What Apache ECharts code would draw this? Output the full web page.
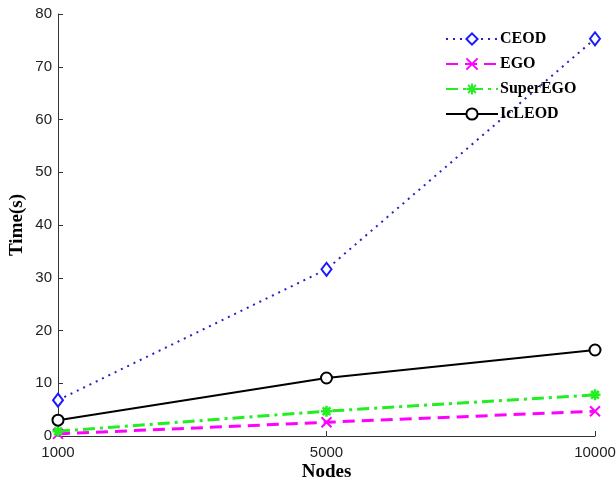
<!DOCTYPE html>
<html>
<head>
<meta charset="utf-8">
<script src="https://cdn.jsdelivr.net/npm/echarts@6/dist/echarts.min.js"></script>
<style>html,body{margin:0;padding:0;background:#fff}#c{width:616px;height:482px}</style>
</head>
<body>
<div id="c"></div>
<script>
const categories = ['1000', '5000', '10000'];
const ceod = [6.8, 31.6, 75.3];
const ego = [0.4, 2.6, 4.7];
const superEgo = [0.9, 4.7, 7.8];
const icleod = [3.0, 11.0, 16.3];
const yTicks = [0, 10, 20, 30, 40, 50, 60, 70, 80];

const xPath = 'path://M0,0L10,10M10,0L0,10';
const starPath = 'path://M5,0L5,10M0,5L10,5M1.5,1.5L8.5,8.5M8.5,1.5L1.5,8.5';

const chart = echarts.init(document.getElementById('c'));
chart.setOption({
  animation: false,
  backgroundColor: '#fff',
  grid: { left: 58, right: 21, top: 14, bottom: 46, containLabel: false, outerBoundsMode: 'none' },
  legend: {
    orient: 'vertical',
    left: 440,
    top: 26,
    itemWidth: 52,
    itemHeight: 14,
    itemGap: 9,
    textStyle: { fontFamily: 'Liberation Serif', fontWeight: 'bold', fontSize: 16, color: '#000', padding: [0, 0, 0, -3] },
    data: ['CEOD', 'EGO', 'SuperEGO', 'IcLEOD']
  },
  xAxis: {
    type: 'category',
    data: categories,
    boundaryGap: false,
    name: 'Nodes',
    nameLocation: 'middle',
    nameGap: 27,
    nameMoveOverlap: false,
    nameTextStyle: { fontFamily: 'Liberation Serif', fontWeight: 'bold', fontSize: 19, color: '#000' },
    axisLine: { lineStyle: { color: '#333', width: 1 } },
    axisTick: { inside: true, length: 5, lineStyle: { color: '#333' } },
    axisLabel: { fontFamily: 'Liberation Sans', fontSize: 15, color: '#222', margin: 9 },
    splitLine: { show: false }
  },
  yAxis: {
    type: 'value',
    min: 0, max: 80, interval: 10,
    name: 'Time(s)',
    nameLocation: 'middle',
    nameGap: 31,
    nameMoveOverlap: false,
    nameTextStyle: { fontFamily: 'Liberation Serif', fontWeight: 'bold', fontSize: 19, color: '#000' },
    axisLine: { show: true, lineStyle: { color: '#333', width: 1 } },
    axisTick: { show: true, inside: true, length: 5, lineStyle: { color: '#333' } },
    axisLabel: { fontFamily: 'Liberation Sans', fontSize: 15, color: '#222', margin: 6,
      formatter: v => yTicks.includes(v) ? String(v) : '' },
    splitLine: { show: false }
  },
  series: [
    {
      name: 'CEOD', type: 'line', data: ceod,
      symbol: 'emptyDiamond', symbolSize: [10, 13],
      lineStyle: { color: '#2323c8', width: 2, type: [2, 5] },
      itemStyle: { color: '#1a1aff', borderColor: '#1a1aff', borderWidth: 2 }
    },
    {
      name: 'EGO', type: 'line', data: ego,
      symbol: xPath, symbolSize: 10,
      lineStyle: { color: '#ff00ff', width: 3, type: [12, 7] },
      itemStyle: { color: '#ff00ff', borderColor: '#ff00ff', borderWidth: 2 }
    },
    {
      name: 'SuperEGO', type: 'line', data: superEgo,
      symbol: starPath, symbolSize: 11,
      lineStyle: { color: '#22ee22', width: 3, type: [12, 5, 3, 5] },
      itemStyle: { color: '#22ee22', borderColor: '#22ee22', borderWidth: 2.5 }
    },
    {
      name: 'IcLEOD', type: 'line', data: icleod,
      symbol: 'emptyCircle', symbolSize: 11,
      lineStyle: { color: '#000', width: 2 },
      itemStyle: { color: '#000', borderColor: '#000', borderWidth: 1.5 }
    }
  ]
});
</script>
</body>
</html>
